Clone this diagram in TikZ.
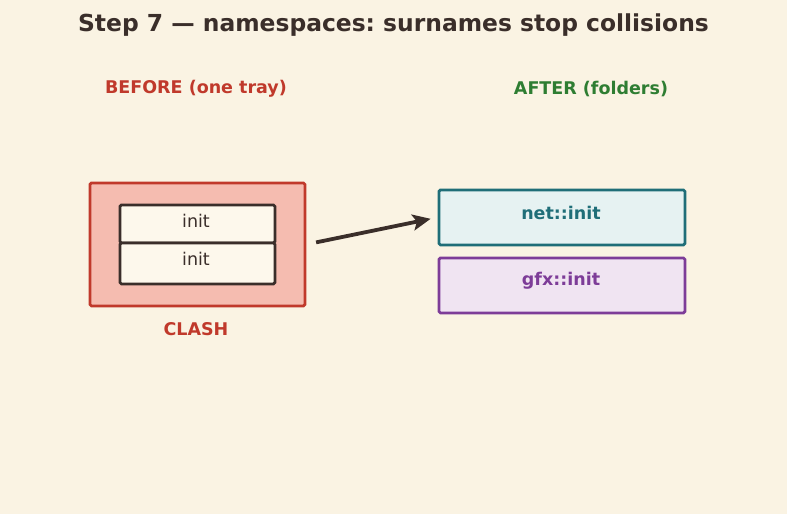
\documentclass[tikz,border=0pt]{standalone}
\usepackage{fontspec}
\setmainfont{DejaVu Sans}
\usetikzlibrary{arrows.meta}
\frenchspacing
\definecolor{bgc}{HTML}{FAF3E3}
\definecolor{ink}{HTML}{3A2E2A}
\definecolor{redc}{HTML}{C0392B}
\definecolor{redfill}{HTML}{F5BCB0}
\definecolor{cream}{HTML}{FDF8EC}
\definecolor{greenc}{HTML}{2E7D32}
\definecolor{tealc}{HTML}{1F6E78}
\definecolor{tealfill}{HTML}{E6F2F2}
\definecolor{purc}{HTML}{7D3C98}
\definecolor{purfill}{HTML}{F0E4F2}
\tikzset{
  box/.style={draw, line width=2.8pt, rounded corners=1.5pt, inner sep=0pt, anchor=north west},
  lbl/.style={font=\bfseries\fontsize{17.5}{20}\selectfont, inner sep=0pt},
  plain/.style={font=\fontsize{17.5}{20}\selectfont, text=ink, inner sep=0pt},
}
\begin{document}
\begin{tikzpicture}[x=1pt,y=-1pt]
\fill[bgc] (0,0) rectangle (787,514);
\useasboundingbox (0,0) rectangle (787,514);
\node[font=\bfseries\fontsize{23.4}{26}\selectfont, text=ink, inner sep=0pt] (title) at (393.5,25.5) {Step 7 — namespaces: surnames stop collisions};
\node[lbl, text=redc] (before) at (196,89) {BEFORE (one tray)};
\node[lbl, text=greenc] (after) at (591,89) {AFTER (folders)};
% left tray
\node[box, draw=redc, fill=redfill, minimum width=215pt, minimum height=123pt] (tray) at (88.5,181.5) {};
\node[box, draw=ink, fill=cream, minimum width=155pt, minimum height=38pt] (init1) at (118.5,203.5) {};
\node[box, draw=ink, fill=cream, minimum width=155pt, minimum height=41pt] (init2) at (118.5,241.5) {};
\node[plain] (t1) at (196,220.5) {init};
\node[plain] (t2) at (196,258.5) {init};
\node[lbl, text=redc] (clash) at (196,329) {CLASH};
% right folders
\node[box, draw=tealc, fill=tealfill, minimum width=246pt, minimum height=55pt] (net) at (437.5,188.5) {};
\node[lbl, text=tealc] (nett) at (561,212.5) {net::init};
\node[box, draw=purc, fill=purfill, minimum width=246pt, minimum height=55pt] (gfx) at (437.5,256.5) {};
\node[lbl, text=purc] (gfxt) at (561,280.5) {gfx::init};
% arrow
\draw[ink, line width=3.8pt, -{Stealth[length=18pt,width=16pt,inset=4pt]}, shorten <=10pt, shorten >=7pt] (tray.east) -- (net.west);
\end{tikzpicture}
\end{document}
